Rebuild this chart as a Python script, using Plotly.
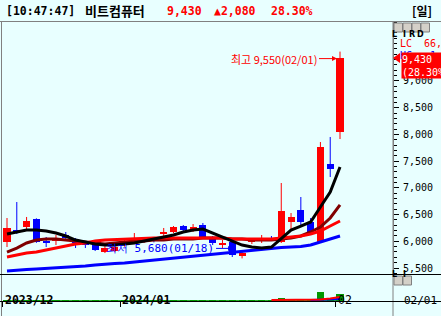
import plotly.graph_objects as go

# ---------------- data ----------------
dates = ["12/12", "12/13", "12/14", "12/15", "12/18", "12/19", "12/20", "12/21", "12/22",
         "12/26", "12/27", "12/28", "01/02", "01/03", "01/04", "01/05", "01/08", "01/09",
         "01/10", "01/11", "01/12", "01/15", "01/16", "01/17", "01/18", "01/19", "01/22",
         "01/23", "01/24", "01/25", "01/26", "01/29", "01/30", "01/31", "02/01"]
opens = [5987, 6211, 6267, 6417, 5987, 6005, 6118, 6043, 5968,
         5987, 5799, 5818, 5950, 6024, 6000, 6040, 6155, 6174,
         6286, 6211, 6305, 6061, 5949, 5987, 5725, 5987, 6005,
         6061, 5987, 6361, 6586, 6361, 5987, 7446, 8045]
highs = [6436, 6735, 6455, 6430, 6080, 6118, 6174, 6061, 5987,
         6005, 5910, 5930, 6050, 6155, 6080, 6080, 6249, 6286,
         6305, 6323, 6342, 6099, 6024, 6024, 5837, 6061, 6118,
         6099, 7091, 6529, 6829, 6436, 7858, 7952, 9550]
lows = [5893, 6136, 6211, 5970, 5893, 5930, 6024, 5874, 5874,
        5818, 5780, 5800, 5900, 5990, 5970, 5980, 6080, 6155,
        6192, 6174, 6061, 5930, 5874, 5706, 5680, 5949, 5968,
        6005, 5968, 6211, 6305, 6118, 5968, 7203, 7914]
closes = [6249, 6155, 6380, 5987, 5970, 6061, 6061, 5968, 5930,
          5837, 5874, 5893, 6000, 6043, 6030, 6000, 6174, 6267,
          6211, 6267, 6080, 5968, 5968, 5743, 5781, 6024, 6043,
          6024, 6567, 6455, 6361, 6155, 7770, 7350, 9430]

ma5 = [6136, 6174, 6211, 6211, 6192, 6155, 6099, 6024, 5987,
       5949, 5930, 5930, 5949, 5968, 6005, 6043, 6080, 6118,
       6174, 6211, 6230, 6155, 6080, 6005, 5930, 5893, 5874,
       5893, 6061, 6211, 6286, 6361, 6642, 6920, 7390]
ma20 = [5799, 5874, 5968, 6024, 6043, 6043, 6024, 6005, 5987,
        5968, 5949, 5968, 5987, 6005, 6005, 6024, 6024, 6043,
        6043, 6043, 6061, 6061, 6061, 6043, 6043, 6024, 6024,
        6024, 6043, 6061, 6099, 6174, 6267, 6436, 6680]
ma60 = [5706, 5743, 5781, 5799, 5837, 5874, 5912, 5949, 5968,
        6005, 6024, 6034, 6043, 6052, 6061, 6061, 6061, 6061,
        6061, 6061, 6061, 6061, 6061, 6043, 6043, 6043, 6043,
        6043, 6061, 6080, 6099, 6136, 6192, 6286, 6380]
ma120 = [5444, 5463, 5472, 5481, 5491, 5500, 5519, 5528, 5537,
         5556, 5575, 5584, 5594, 5612, 5631, 5650, 5668, 5687,
         5706, 5724, 5743, 5762, 5781, 5799, 5818, 5837, 5856,
         5874, 5884, 5893, 5902, 5930, 5987, 6043, 6099]

volumes = [0.3, 1.0, 0.3, 0.3, 0.2, 0.2, 0.2, 0.2, 0.2,
           0.2, 0.2, 0.2, 0.2, 0.2, 0.2, 0.2, 0.2, 0.2,
           0.2, 0.2, 0.2, 0.2, 0.2, 0.2, 0.2, 0.2, 0.2,
           0.3, 3.0, 0.5, 0.5, 0.5, 9.0, 3.5, 7.0]
vol_ma5 = [None] * 27 + [1.0, 1.0, 1.0, 1.0, 1.2, 1.6, 2.5, 4.0]
vol_ma20 = [None] * 31 + [1.0, 1.2, 1.6, 2.0]
vol_ma60 = [0.3] * 35

price_ticks = [5500, 6000, 6500, 7000, 7500, 8000, 8500, 9000]
date_ticks = [-0.45, 11.55, 33.55]
date_labels = ["<b>2023/12</b>", "<b>2024/01</b>", "02"]

# ---------------- layout helpers ----------------
W, H = 441, 316
BG = "#E8FFFF"


def px(x):
    return x / W


def py(y):
    return (H - y) / H


RED, BLUE, DRED = "#FF0000", "#0000FF", "#800000"
MONO = "DejaVu Sans Mono"
KR = "Noto Sans CJK KR"

fig = go.Figure()
idx = list(range(len(dates)))

# candles: wicks then bodies
for color, flag in ((RED, True), (BLUE, False)):
    sel = [i for i in idx if (closes[i] >= opens[i]) == flag]
    wx, wy = [], []
    for i in sel:
        wx += [i, i, None]
        wy += [lows[i], highs[i], None]
    fig.add_trace(go.Scatter(x=wx, y=wy, mode="lines", line=dict(color=color, width=1),
                             hoverinfo="skip", showlegend=False))
    fig.add_trace(go.Bar(x=sel, y=[max(abs(closes[i] - opens[i]), 20) for i in sel],
                         base=[min(opens[i], closes[i]) for i in sel], width=0.72,
                         marker=dict(color=color, line=dict(width=0)), showlegend=False))

for vals, color in ((ma120, BLUE), (ma20, DRED), (ma60, RED), (ma5, "#000000")):
    fig.add_trace(go.Scatter(x=idx, y=vals, mode="lines", line=dict(color=color, width=3),
                             showlegend=False))

# volume
fig.add_trace(go.Bar(x=idx, y=volumes, width=0.72, marker=dict(color="#009900", line=dict(width=0)),
                     xaxis="x2", yaxis="y2", showlegend=False))
fig.add_trace(go.Scatter(x=idx, y=vol_ma60, mode="lines", line=dict(color="#009900", width=1),
                         xaxis="x2", yaxis="y2", showlegend=False))
fig.add_trace(go.Scatter(x=idx, y=vol_ma20, mode="lines", line=dict(color=BLUE, width=2),
                         xaxis="x2", yaxis="y2", showlegend=False))
fig.add_trace(go.Scatter(x=idx, y=vol_ma5, mode="lines", line=dict(color=RED, width=2),
                         xaxis="x2", yaxis="y2", showlegend=False))

xr = [-0.5105, 39.41]
fig.update_layout(
    width=W, height=H, margin=dict(l=0, r=0, t=0, b=0),
    paper_bgcolor=BG, plot_bgcolor=BG, bargap=0, barmode="overlay",
    xaxis=dict(domain=[px(2), px(393)], range=xr, showticklabels=False, showgrid=False,
               zeroline=False, anchor="y"),
    yaxis=dict(domain=[py(274), py(22)], range=[5388, 10104], side="right", anchor="x",
               tickmode="array", tickvals=price_ticks, tickformat=",d",
               ticks="outside", ticklen=5, tickcolor="#000000", showgrid=False, zeroline=False,
               showline=True, linecolor="#808080", linewidth=1, ticklabelstandoff=2,
               tickfont=dict(family=MONO, size=10, color="#000000"),
               minor=dict(tickmode="linear", tick0=0, dtick=100, ticks="outside", ticklen=3,
                          tickcolor="#000000", showgrid=False)),
    xaxis2=dict(domain=[px(2), px(393)], range=xr, anchor="y2", tickmode="array",
                tickvals=date_ticks, ticks="outside", ticklen=5, tickcolor="#000000",
                showticklabels=False, showgrid=False, zeroline=False),
    yaxis2=dict(domain=[py(301), py(275)], range=[0, 26], visible=False),
)

shapes = []
line_gray = dict(color="#808080", width=1)
shapes.append(dict(type="line", xref="paper", yref="paper", x0=0, x1=1, y0=py(21.5), y1=py(21.5), line=line_gray))
shapes.append(dict(type="line", xref="paper", yref="paper", x0=px(1.5), x1=px(1.5), y0=py(21.5), y1=0, line=line_gray))
shapes.append(dict(type="line", xref="paper", yref="paper", x0=px(393), x1=px(393), y0=py(21.5), y1=0, line=line_gray))
shapes.append(dict(type="line", xref="paper", yref="paper", x0=0, x1=1, y0=py(274.5), y1=py(274.5), line=dict(color="#000000", width=1)))
shapes.append(dict(type="line", xref="paper", yref="paper", x0=0, x1=1, y0=py(301.5), y1=py(301.5), line=dict(color="#000000", width=1)))

# small buttons
annotations = []
for k, (lab, yy) in enumerate([(c, 23) for c in "LIRD"] + [(c, 276) for c in "LI"]):
    j = k if k < 4 else k - 4
    x0 = 394 + 9 * j
    shapes.append(dict(type="rect", xref="paper", yref="paper", x0=px(x0), x1=px(x0 + 8.5),
                       y0=py(yy), y1=py(yy + 9), fillcolor="#D4D0C8", line=dict(color="#808080", width=1)))
    annotations.append(dict(text="<b>%s</b>" % lab, xref="paper", yref="paper", x=px(x0 + 4.5), y=py(yy + 4.5),
                            showarrow=False, font=dict(family="DejaVu Sans", size=8, color="#000000")))

# price marker triangle
shapes.append(dict(type="path", xref="paper", yref="y", xsizemode="pixel", ysizemode="pixel",
                   xanchor=px(393), yanchor=closes[-1], path="M 0,0 L 7,5 L 7,-5 Z",
                   fillcolor=RED, line=dict(width=0)))

# title bar
def title_text(txt, x, color="#000000", family=MONO, size=11.5):
    annotations.append(dict(text=txt, xref="paper", yref="paper", x=px(x), y=py(11), xanchor="left",
                            yanchor="middle", showarrow=False, font=dict(family=family, size=size, color=color)))


title_text("<b>[10:47:47]</b>", 4)
title_text("<b>비트컴퓨터</b>", 83, family=KR, size=13)
title_text("<b>9,430</b>", 165, RED)
title_text("<b>▲2,080</b>", 212, RED)
title_text("<b>28.30%</b>", 269, RED)
title_text("<b>[일]</b>", 410, family=KR, size=12)

# right side texts
annotations.append(dict(text="LC  66,", xref="paper", yref="paper", x=px(398), y=py(36), xanchor="left",
                        showarrow=False, font=dict(family=MONO, size=10, color=RED)))
annotations.append(dict(text="HC   1", xref="paper", yref="paper", x=px(398), y=py(48), xanchor="left",
                        showarrow=False, font=dict(family=MONO, size=10, color=BLUE)))
annotations.append(dict(text="9,430<br>(28.30%", xref="paper", yref="y", x=px(401), y=closes[-1], yshift=6,
                        xanchor="left", yanchor="top", align="left", showarrow=False, bgcolor=RED,
                        width=44, height=25, borderpad=0,
                        font=dict(family=MONO, size=10, color="#FFFFFF")))

# high / low annotations
hi = max(highs)
hi_i = highs.index(hi)
lo = min(lows)
lo_i = lows.index(lo)
annotations.append(dict(text="최고 %s(%s)" % (format(hi, ","), dates[hi_i]), x=hi_i, y=hi, xref="x", yref="y",
                        ax=-21, ay=0, xanchor="right", yshift=-7, showarrow=True, arrowhead=2, arrowsize=1,
                        arrowwidth=1, arrowcolor=RED, standoff=3,
                        font=dict(family=KR, size=11, color=RED)))
annotations.append(dict(text="최저 %s(%s)" % (format(lo, ","), dates[lo_i]), x=lo_i, y=lo, xref="x", yref="y",
                        ax=-26, ay=0, xanchor="right", yshift=10, showarrow=True, arrowhead=2, arrowsize=1,
                        arrowwidth=1, arrowcolor=BLUE, standoff=9,
                        font=dict(family=MONO, size=11, color=BLUE)))

# date labels
for v, lab in zip(date_ticks, date_labels):
    annotations.append(dict(text=lab, xref="x2", yref="paper", x=v, y=py(309), xanchor="left", xshift=0,
                            showarrow=False, font=dict(family=MONO, size=11.5, color="#000000")))
annotations.append(dict(text=dates[-1], xref="paper", yref="paper", x=px(402), y=py(309), xanchor="left",
                        showarrow=False, font=dict(family=MONO, size=11, color="#000000")))

fig.update_layout(shapes=shapes, annotations=annotations)
fig.write_html("out.html")
